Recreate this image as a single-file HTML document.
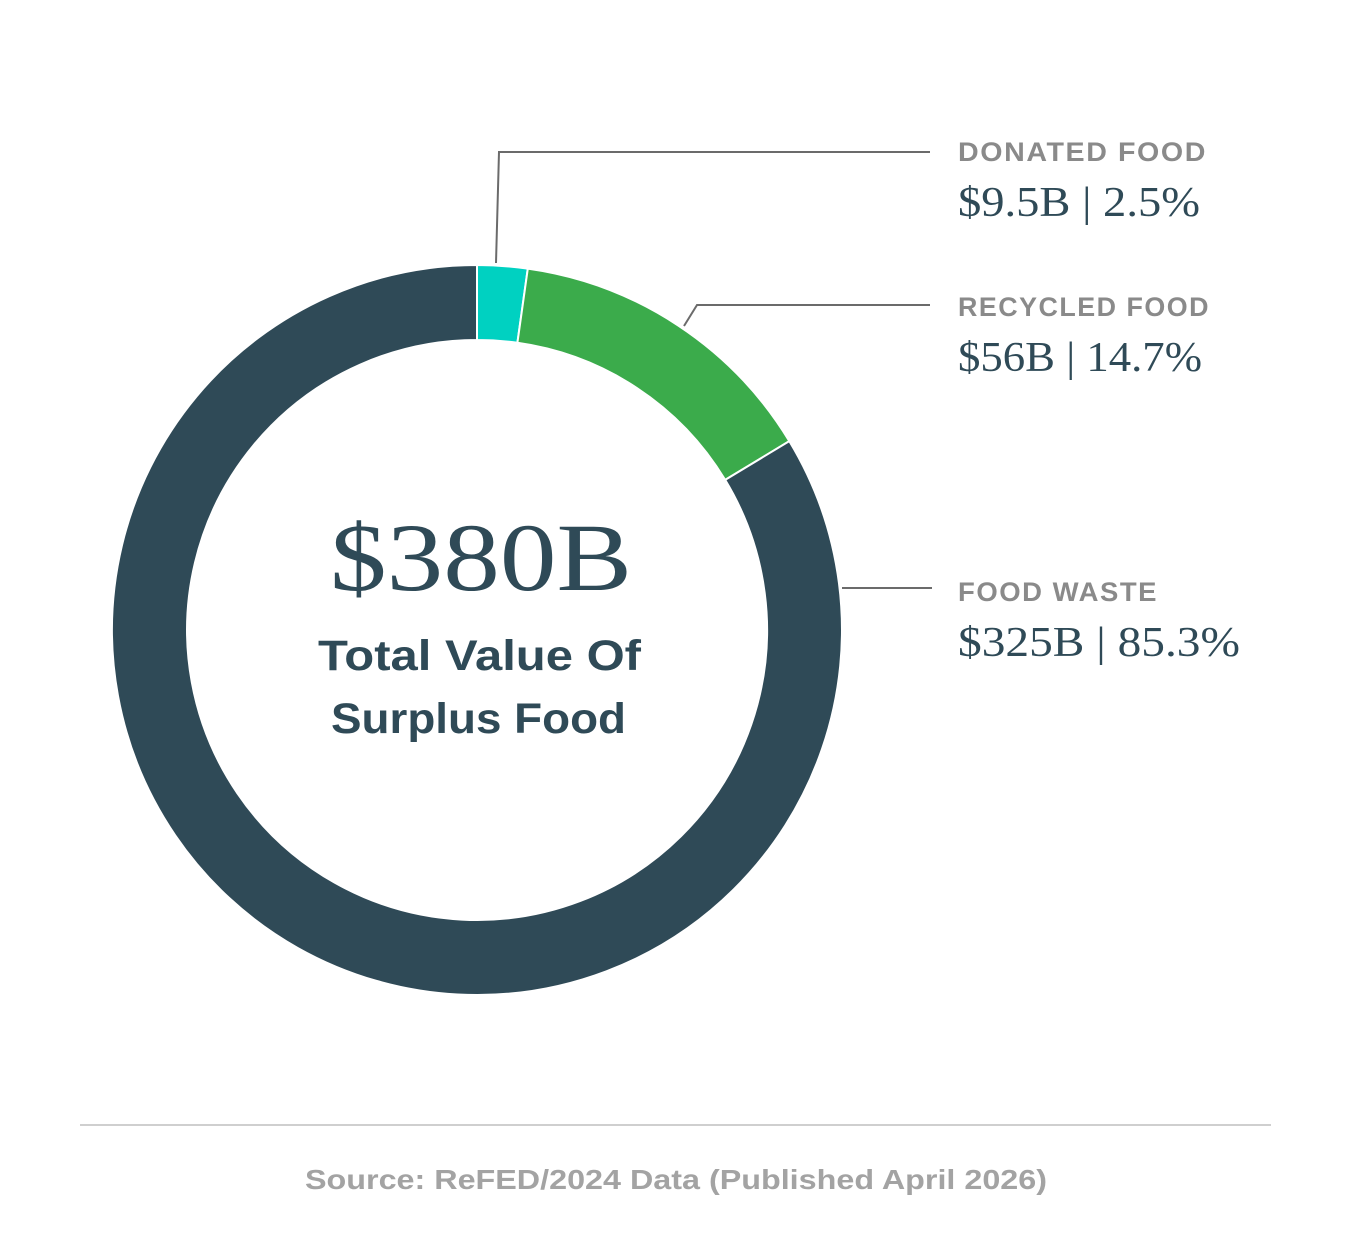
<!DOCTYPE html>
<html><head><meta charset="utf-8"><style>
html,body{margin:0;padding:0;background:#fff;}
body{width:1352px;height:1242px;overflow:hidden;}
</style></head><body>
<svg width="1352" height="1242" viewBox="0 0 1352 1242" xmlns="http://www.w3.org/2000/svg">
<rect width="1352" height="1242" fill="#fff"/>
<g transform="translate(477,630)">
<path d="M0,-365 A365,365 0 0 1 50.8,-361.4 L40.4,-287.2 A290,290 0 0 0 0,-290 Z" fill="#00d1c1" stroke="#fff" stroke-width="2"/>
<path d="M50.8,-361.4 A365,365 0 0 1 312.3,-188.9 L248.2,-150.1 A290,290 0 0 0 40.4,-287.2 Z" fill="#3bab4b" stroke="#fff" stroke-width="2"/>
<path d="M312.3,-188.9 A365,365 0 1 1 0,-365 L0,-290 A290,290 0 1 0 248.2,-150.1 Z" fill="#2f4a57" stroke="#fff" stroke-width="2"/>
</g>
<g stroke="#6b6b6b" stroke-width="2" fill="none">
<polyline points="496,263 499,152 930,152"/>
<polyline points="684,326 697,305 930,305"/>
<polyline points="842,588 932,588"/>
</g>
<g font-family="Liberation Sans, sans-serif" font-weight="bold" fill="#8a8a8a" font-size="27" letter-spacing="1.5" lengthAdjust="spacingAndGlyphs">
<text x="958" y="161" textLength="249" lengthAdjust="spacingAndGlyphs">DONATED FOOD</text>
<text x="958" y="316" textLength="252" lengthAdjust="spacingAndGlyphs">RECYCLED FOOD</text>
<text x="958" y="601" textLength="200" lengthAdjust="spacingAndGlyphs">FOOD WASTE</text>
</g>
<g font-family="Liberation Serif, serif" fill="#2f4a57" font-size="42">
<text x="958" y="216" textLength="242" lengthAdjust="spacingAndGlyphs">$9.5B | 2.5%</text>
<text x="958" y="371" textLength="244" lengthAdjust="spacingAndGlyphs">$56B | 14.7%</text>
<text x="958" y="656" textLength="282" lengthAdjust="spacingAndGlyphs">$325B | 85.3%</text>
</g>
<text x="330" y="590" textLength="302" lengthAdjust="spacingAndGlyphs" font-family="Liberation Serif, serif" font-size="96" fill="#2f4a57">$380B</text>
<g font-family="Liberation Sans, sans-serif" font-weight="bold" fill="#2f4a57" font-size="43">
<text x="318" y="670" textLength="323" lengthAdjust="spacingAndGlyphs">Total Value Of</text>
<text x="331" y="733" textLength="295" lengthAdjust="spacingAndGlyphs">Surplus Food</text>
</g>
<line x1="80" y1="1125" x2="1271" y2="1125" stroke="#cfcfcf" stroke-width="2"/>
<text x="305" y="1189" textLength="742" lengthAdjust="spacingAndGlyphs" font-family="Liberation Sans, sans-serif" font-weight="bold" font-size="28" fill="#a3a3a3">Source: ReFED/2024 Data (Published April 2026)</text>
</svg>
</body></html>
